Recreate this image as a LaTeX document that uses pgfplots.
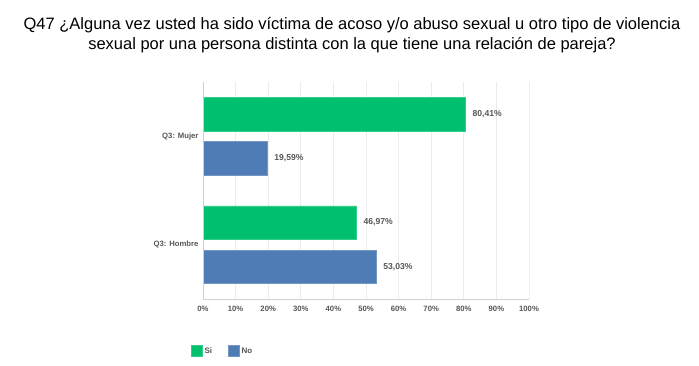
\documentclass[border=0pt]{standalone}
\usepackage{pgfplots}
\pgfplotsset{compat=1.18}
\usepackage{fontspec}
\setmainfont{Liberation Sans}
\definecolor{sigreen}{HTML}{00BF6F}
\definecolor{noblue}{HTML}{507CB6}
\definecolor{txtgray}{HTML}{555555}
\definecolor{gridgray}{HTML}{ECECEC}
\definecolor{axgray}{HTML}{D0D0D0}
\begin{document}
\begin{tikzpicture}
\useasboundingbox (0,0) rectangle (699pt,366pt);
\node[align=center, font=\fontsize{16.5}{20.5}\selectfont, anchor=center] at (352pt,331pt)
  {Q47 ¿Alguna vez usted ha sido víctima de acoso y/o abuso sexual u otro tipo de violencia\\
   sexual por una persona distinta con la que tiene una relación de pareja?};
\begin{axis}[
  at={(203pt,67pt)}, anchor=south west,
  scale only axis, width=326pt, height=217pt,
  xbar, xmin=0, xmax=100, ymin=-0.5, ymax=1.5,
  bar width=0.31,
  xtick={0,10,...,100},
  xticklabels={0\%,10\%,20\%,30\%,40\%,50\%,60\%,70\%,80\%,90\%,100\%},
  ytick={0,1}, yticklabels={Q3: Hombre, Q3: Mujer},
  axis line style={draw=none},
  major tick length=0pt,
  xmajorgrids, grid style={gridgray, line width=0.8pt},
  tick label style={font=\fontsize{7.7}{9}\selectfont\bfseries, text=txtgray},
  xticklabel style={yshift=-4pt},
  yticklabel style={xshift=-1pt},
  nodes near coords={\pgfmathprintnumber[fixed,precision=2,fixed zerofill,use comma,assume math mode=true]{\pgfplotspointmeta}\%},
  nodes near coords style={font=\fontsize{8.6}{10}\selectfont\bfseries, text=txtgray, xshift=4pt},
  every node near coord/.append style={anchor=west},
  point meta=x,
  legend columns=2,
  legend style={draw=none, at={(-0.046,-0.24)}, anchor=west, font=\fontsize{8}{10}\selectfont\bfseries, text=txtgray,
    /tikz/every even column/.append style={column sep=14pt}},
  legend image code/.code={\fill[#1] (0pt,-5.5pt) rectangle (11pt,5.5pt);},
  clip=false,
]
\addplot[fill=sigreen, draw=sigreen!80!white, bar shift=0.204] coordinates {(46.97,0) (80.41,1)};
\addplot[fill=noblue, draw=noblue!80!white, bar shift=-0.204] coordinates {(53.03,0) (19.59,1)};
\legend{Si, No}
\draw[axgray, line width=0.8pt] (rel axis cs:0,1) -- (rel axis cs:0,0) -- (rel axis cs:1,0);
\end{axis}
\end{tikzpicture}
\end{document}
